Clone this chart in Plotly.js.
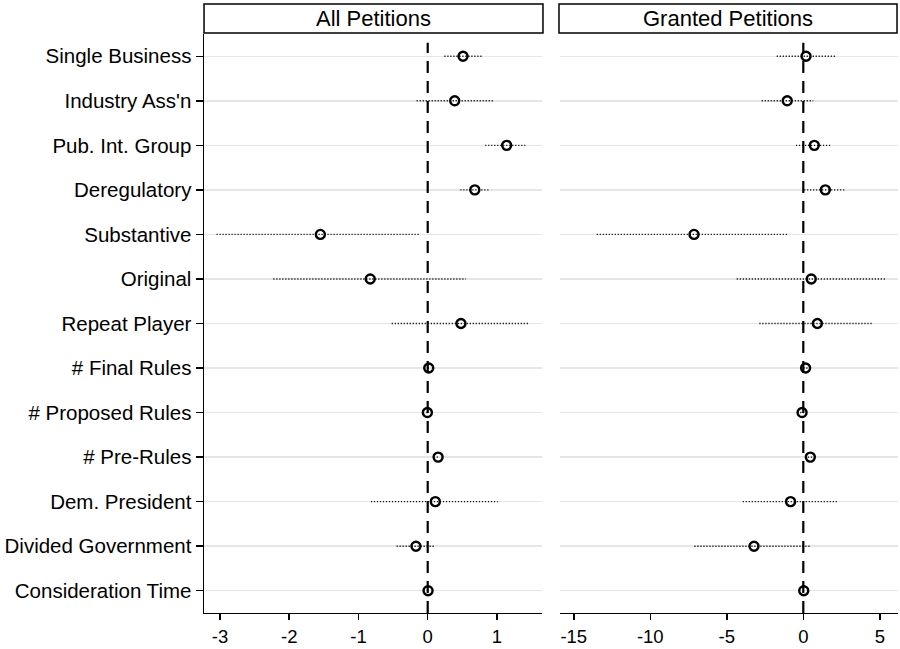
<!DOCTYPE html>
<html>
<head>
<meta charset="utf-8">
<script src="https://cdn.plot.ly/plotly-3.0.1.min.js"></script>
<style>html,body{margin:0;padding:0;background:#fff;}#chart{width:900px;height:649px;}</style>
</head>
<body>
<div id="chart"></div>
<script>
var labels = ["Single Business","Industry Ass'n","Pub. Int. Group","Deregulatory","Substantive","Original","Repeat Player","# Final Rules","# Proposed Rules","# Pre-Rules","Dem. President","Divided Government","Consideration Time"];

var allEst = [0.51, 0.39, 1.14, 0.68, -1.55, -0.83, 0.48, 0.015, -0.005, 0.15, 0.11, -0.17, 0.005];
var allLo  = [0.24, -0.16, 0.83, 0.47, -3.05, -2.23, -0.52, 0.0, -0.02, 0.13, -0.82, -0.45, -0.01];
var allHi  = [0.78, 0.94, 1.41, 0.90, -0.11, 0.55, 1.47, 0.03, 0.01, 0.17, 1.01, 0.105, 0.02];

var grEst = [0.18, -1.05, 0.72, 1.44, -7.14, 0.52, 0.92, 0.15, -0.08, 0.46, -0.83, -3.22, 0.03];
var grLo  = [-1.74, -2.72, -0.48, 0.05, -13.5, -4.35, -2.87, 0.0, -0.2, 0.3, -3.96, -7.12, -0.05];
var grHi  = [2.12, 0.65, 1.75, 2.77, -0.95, 5.38, 4.51, 0.3, 0.05, 0.6, 2.25, 0.48, 0.1];

var panelTitles = ["All Petitions", "Granted Petitions"];
var leftTicks = [-3, -2, -1, 0, 1];
var leftTickText = ["-3", "-2", "-1", "0", "1"];
var rightTicks = [-15, -10, -5, 0, 5];
var rightTickText = ["-15", "-10", "-5", "0", "5"];

function ciTrace(lo, hi, xa, ya) {
  var xs = [], ys = [];
  for (var i = 0; i < labels.length; i++) {
    xs.push(lo[i], hi[i], null);
    ys.push(labels[i], labels[i], null);
  }
  return {x: xs, y: ys, xaxis: xa, yaxis: ya, mode: 'lines', type: 'scatter',
    line: {color: '#111', width: 1.4, dash: '1.2px,1.8px'}, hoverinfo: 'skip', showlegend: false};
}
function ptTrace(est, xa, ya) {
  return {x: est, y: labels, xaxis: xa, yaxis: ya, mode: 'markers', type: 'scatter',
    marker: {symbol: 'circle-open', size: 9, color: '#000', line: {width: 2.4, color: '#000'}},
    showlegend: false};
}
function zeroTrace(xa, ya) {
  return {x: [0, 0], y: [0, 0.985], xaxis: xa, yaxis: ya, mode: 'lines', type: 'scatter',
    line: {color: '#000', width: 2.2, dash: '12px,8px'}, hoverinfo: 'skip', showlegend: false};
}

var data = [
  zeroTrace('x', 'y3'), ciTrace(allLo, allHi, 'x', 'y'), ptTrace(allEst, 'x', 'y'),
  zeroTrace('x2', 'y4'), ciTrace(grLo, grHi, 'x2', 'y2'), ptTrace(grEst, 'x2', 'y2')
];

var font = {family: 'Liberation Sans, Arial, sans-serif', size: 20.5, color: '#000'};
var xfont = {family: 'Liberation Sans, Arial, sans-serif', size: 18.5, color: '#000'};
var yDom = [0.0555, 0.9476];
var hiddenY = {domain: yDom, range: [0, 1], visible: false, showgrid: false, zeroline: false, fixedrange: true};
var layout = {
  width: 900, height: 649,
  margin: {l: 0, r: 0, t: 0, b: 0},
  paper_bgcolor: '#fff', plot_bgcolor: '#fff',
  font: font,
  showlegend: false,
  xaxis: {domain: [0.2267, 0.6022], range: [-3.23, 1.65], tickvals: leftTicks, ticktext: leftTickText, zeroline: false,
    showgrid: false, showline: true, linecolor: '#000', linewidth: 1.5, ticks: 'outside', ticklen: 6,
    tickwidth: 1.5, tickcolor: '#000', tickfont: xfont, anchor: 'y'},
  yaxis: {domain: yDom, type: 'category', categoryorder: 'array', categoryarray: labels,
    range: [12.5, -0.5], showgrid: true, gridcolor: '#e6e6e6', gridwidth: 1.5, zeroline: false,
    showline: true, linecolor: '#000', linewidth: 1.5, ticks: 'outside', ticklen: 7, tickwidth: 1.5,
    tickcolor: '#000', tickfont: font, anchor: 'x'},
  xaxis2: {domain: [0.6222, 0.9978], range: [-15.9, 6.19], tickvals: rightTicks, ticktext: rightTickText, zeroline: false,
    showgrid: false, showline: true, linecolor: '#000', linewidth: 1.5, ticks: 'outside', ticklen: 6,
    tickwidth: 1.5, tickcolor: '#000', tickfont: xfont, anchor: 'y2'},
  yaxis2: {domain: yDom, type: 'category', categoryorder: 'array', categoryarray: labels,
    range: [12.5, -0.5], showgrid: true, gridcolor: '#e6e6e6', gridwidth: 1.5, zeroline: false,
    showline: false, showticklabels: false, ticks: '', anchor: 'x2'},
  yaxis3: Object.assign({overlaying: 'y', anchor: 'x'}, hiddenY),
  yaxis4: Object.assign({overlaying: 'y2', anchor: 'x2'}, hiddenY),
  shapes: [
    {type: 'rect', xref: 'paper', yref: 'paper', x0: 0.2267, x1: 0.6033, y0: 0.949, y1: 0.9938,
      line: {color: '#000', width: 1.5}, fillcolor: '#fff'},
    {type: 'rect', xref: 'paper', yref: 'paper', x0: 0.6211, x1: 0.9967, y0: 0.949, y1: 0.9938,
      line: {color: '#000', width: 1.5}, fillcolor: '#fff'}
  ],
  annotations: [
    {text: panelTitles[0], xref: 'paper', yref: 'paper', x: 0.415, y: 0.9714, showarrow: false,
      xanchor: 'center', yanchor: 'middle', font: {family: font.family, size: 22, color: '#000'}},
    {text: panelTitles[1], xref: 'paper', yref: 'paper', x: 0.809, y: 0.9714, showarrow: false,
      xanchor: 'center', yanchor: 'middle', font: {family: font.family, size: 22, color: '#000'}}
  ]
};

Plotly.newPlot('chart', data, layout, {staticPlot: true, displayModeBar: false});
</script>
</body>
</html>
